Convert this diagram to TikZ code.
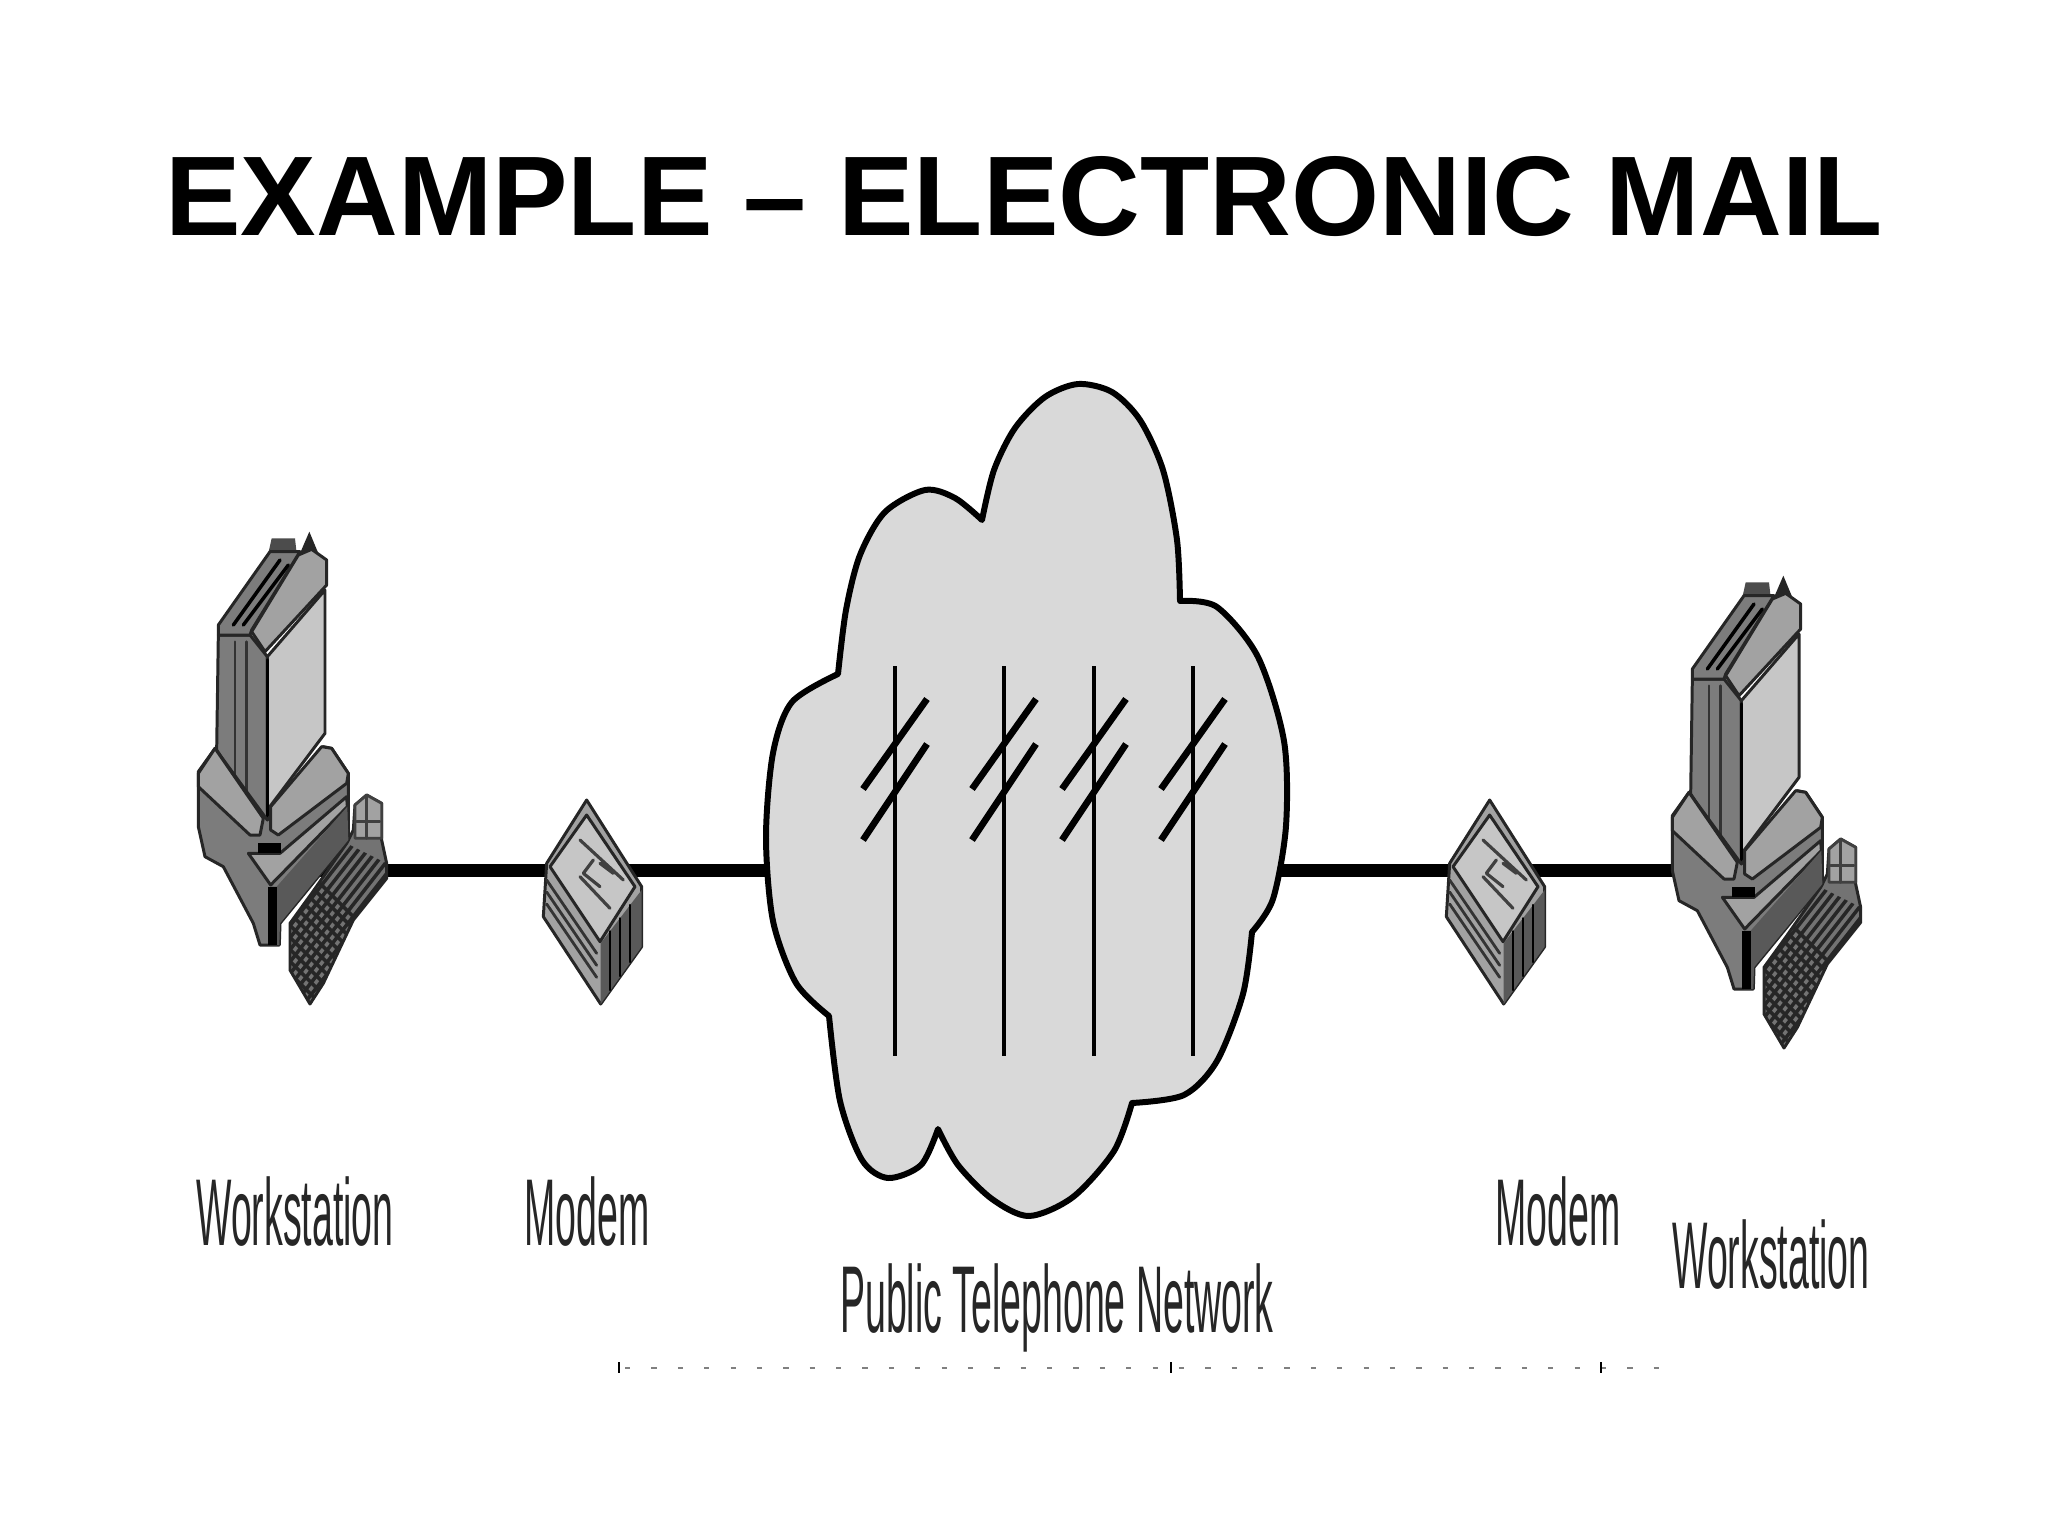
\documentclass[tikz,border=0pt]{standalone}
\usepackage{fontspec}
\setmainfont{Liberation Sans}
\newcommand{\narrowtxt}[1]{\scalebox{.395}[1]{#1}}
\definecolor{cloudgray}{HTML}{D9D9D9}
\definecolor{facelight}{HTML}{C6C6C6}
\definecolor{facemid}{HTML}{A2A2A2}
\definecolor{facedark}{HTML}{7C7C7C}
\tikzset{
  heading/.style={font=\fontsize{32.2pt}{36pt}\selectfont\bfseries,anchor=base,inner sep=0},
  devlabel/.style={font=\fontsize{27pt}{30pt}\selectfont,text=black!85,anchor=base,inner sep=0},
  link/.style={line width=3.7pt,black},
  edge/.style={draw=black!85,line width=.85pt},
  workstn/.pic={
    \begin{scope}[shift={(180,510)},scale=1/3]
      % keyboard and telephone
      \fill[black!70] (265,130)--(275,85)--(345,85)--(350,130)--cycle;
      \fill[black!85] (360,130)--(388,65)--(415,130)--cycle;
      \path[edge,fill=black!55] (390,1482)--(330,1380)--(330,1240)--(395,1150)--(500,1000)--(520,960)--(525,885)--(560,855)--(605,880)--(605,990)--(620,1060)--(620,1105)--(520,1230)--(430,1420)--cycle;
      \begin{scope}
        \clip (390,1482)--(330,1380)--(330,1240)--(395,1150)--(500,1000)--(620,1060)--(620,1105)--(520,1230)--(430,1420)--cycle;
        \foreach \k in {0,36,...,900}{
          \draw[black!85,line width=1pt] (300,1000+\k)--(650,1350+\k);
          \draw[black!85,line width=1pt] (300,1250+\k)--(650,800+\k);
        }
      \end{scope}
      \draw[black!75,line width=.8pt,fill=facemid] (525,885)--(560,855)--(605,880)--(605,985)--(525,985)--cycle;
      \draw[black!75,line width=.8pt] (530,935)--(600,935) (560,860)--(560,985);
      % tower
      \path[edge,fill=facedark] (115,375)--(210,375)--(262,440)--(262,960)--(110,720)--cycle;
      \path[edge,fill=facelight] (262,440)--(435,240)--(435,670)--(262,900)--cycle;
      \draw[black!80,line width=.7pt] (165,395)--(165,800) (200,395)--(200,850);
      \draw[black,line width=1pt] (262,450)--(262,960);
      \path[edge,fill=facedark] (115,375)--(115,345)--(270,125)--(360,125)--(215,360)--(210,375)--cycle;
      \draw[black,line width=1pt] (160,345)--(300,150) (190,345)--(325,165);
      \path[edge,fill=facemid] (215,365)--(355,135)--(395,118)--(440,150)--(440,225)--(255,425)--cycle;
      % base
      \path[edge,fill=facedark] (55,785)--(105,715)--(262,930)--(430,710)--(455,715)--(505,790)--(505,990)--(300,1240)--(298,1305)--(240,1305)--(220,1240)--(130,1070)--(75,1040)--(55,950)--cycle;
      \path[edge,fill=facemid] (55,790)--(105,715)--(250,925)--(240,975)--(210,975)--(55,830)--cycle;
      \path[edge,fill=facemid] (272,890)--(425,710)--(455,715)--(505,790)--(500,820)--(295,975)--(272,960)--cycle;
      \path[edge,fill=facemid] (205,1030)--(300,1030)--(500,860)--(502,890)--(272,1125)--cycle;
      \fill[black!65] (290,1130)--(502,890)--(505,990)--(300,1240)--(298,1305)--(270,1305)--(270,1130)--cycle;
      \fill[black] (235,1000) rectangle (302,1030);
      \fill[black] (265,1130) rectangle (290,1305);
    \end{scope}
  },
  modembox/.pic={
    \begin{scope}[shift={(180,510)},scale=1/3]
      \path[edge,fill=facemid] (1220,870)--(1100,1060)--(1090,1220)--(1262,1482)--(1385,1310)--(1385,1130)--cycle;
      \fill[black!65] (1262,1300)--(1385,1140)--(1385,1310)--(1262,1482)--cycle;
      \foreach \k in {0,36,72}
        \draw[black!80,line width=.8pt] (1100,1110+\k)--(1250,1330+\k);
      \foreach \k/\ka/\kb in {1290/1264/1440,1320/1225/1398,1350/1185/1356}
        \draw[black,line width=.7pt] (\k,\ka)--(\k,\kb);
      \path[edge,fill=facelight] (1220,915)--(1110,1070)--(1260,1295)--(1365,1130)--cycle;
      \draw[black!75,line width=.9pt] (1200,990)--(1330,1110) (1200,1100)--(1290,1195) (1240,1050)--(1210,1090)--(1260,1130) (1260,1060)--(1300,1090);
    \end{scope}
  }
}
\begin{document}
\begin{tikzpicture}[x=.01cm,y=-.01cm,line join=round,line cap=round]
  \useasboundingbox (0,0) rectangle (2048,1536);
  \node[heading] (title) at (1024,235) {EXAMPLE -- ELECTRONIC MAIL};
  \coordinate (wsA) at (300,870);
  \coordinate (mdA) at (590,870);
  \coordinate (net) at (1020,870);
  \coordinate (mdB) at (1495,870);
  \coordinate (wsB) at (1760,870);
  \draw[link,line cap=butt] (wsA)--(mdA);
  \draw[link,line cap=butt] (mdA)--(net);
  \draw[link,line cap=butt] (net)--(mdB);
  \draw[link,line cap=butt] (mdB)--(wsB);
  % telephone network
  \draw[fill=cloudgray,line width=1.7pt]
    plot[smooth] coordinates {(838,674) (846,610) (860,555) (885,512) (925,490) (955,498) (982,520)}
    -- plot[smooth] coordinates {(982,520) (994,470) (1015,428) (1045,397) (1078,384) (1112,392) (1140,420) (1163,470) (1177,540) (1180,601)}
    -- plot[smooth] coordinates {(1180,601) (1217,607) (1258,657) (1284,741) (1286,826) (1273,899) (1252,932)}
    -- plot[smooth] coordinates {(1252,932) (1243,994) (1217,1061) (1184,1095) (1132,1103)}
    -- plot[smooth] coordinates {(1132,1103) (1114,1151) (1073,1197) (1029,1216) (992,1199) (958,1165) (938,1129)}
    -- plot[smooth] coordinates {(938,1129) (921,1165) (888,1178) (862,1160) (840,1101) (829,1016)}
    -- plot[smooth] coordinates {(829,1016) (796,983) (773,921) (766,837) (773,753) (792,702) (838,674)}
    -- cycle;
  \foreach \lx in {895,1004,1094,1193}{
    \draw[line width=1.2pt,line cap=butt] (\lx,666)--(\lx,1056);
    \draw[line width=1.9pt,line cap=butt] (\lx-32,789)--(\lx+32,699);
    \draw[line width=1.9pt,line cap=butt] (\lx-32,840)--(\lx+32,744);
  }
  % devices
  \pic at (0,0) {workstn};
  \pic at (1474,44) {workstn};
  \pic at (0,0) {modembox};
  \pic at (903,0) {modembox};
  \node[devlabel] (lblwsA) at (295,1245) {\narrowtxt{Workstation}};
  \node[devlabel] (lblmdA) at (587,1245) {\narrowtxt{Modem}};
  \node[devlabel] (lblnet) at (1057,1332) {\narrowtxt{Public Telephone Network}};
  \node[devlabel] (lblmdB) at (1558,1245) {\narrowtxt{Modem}};
  \node[devlabel] (lblwsB) at (1771,1288) {\narrowtxt{Workstation}};
  % stray marks along the lower edge
  \draw[black!50,line width=.8pt,line cap=butt,dash pattern=on 1.5pt off 6pt] (625,1368)--(1660,1368);
  \foreach \tx in {619,1171,1601}
    \draw[black,line width=.8pt,line cap=butt] (\tx,1362)--(\tx,1373);
\end{tikzpicture}
\end{document}
